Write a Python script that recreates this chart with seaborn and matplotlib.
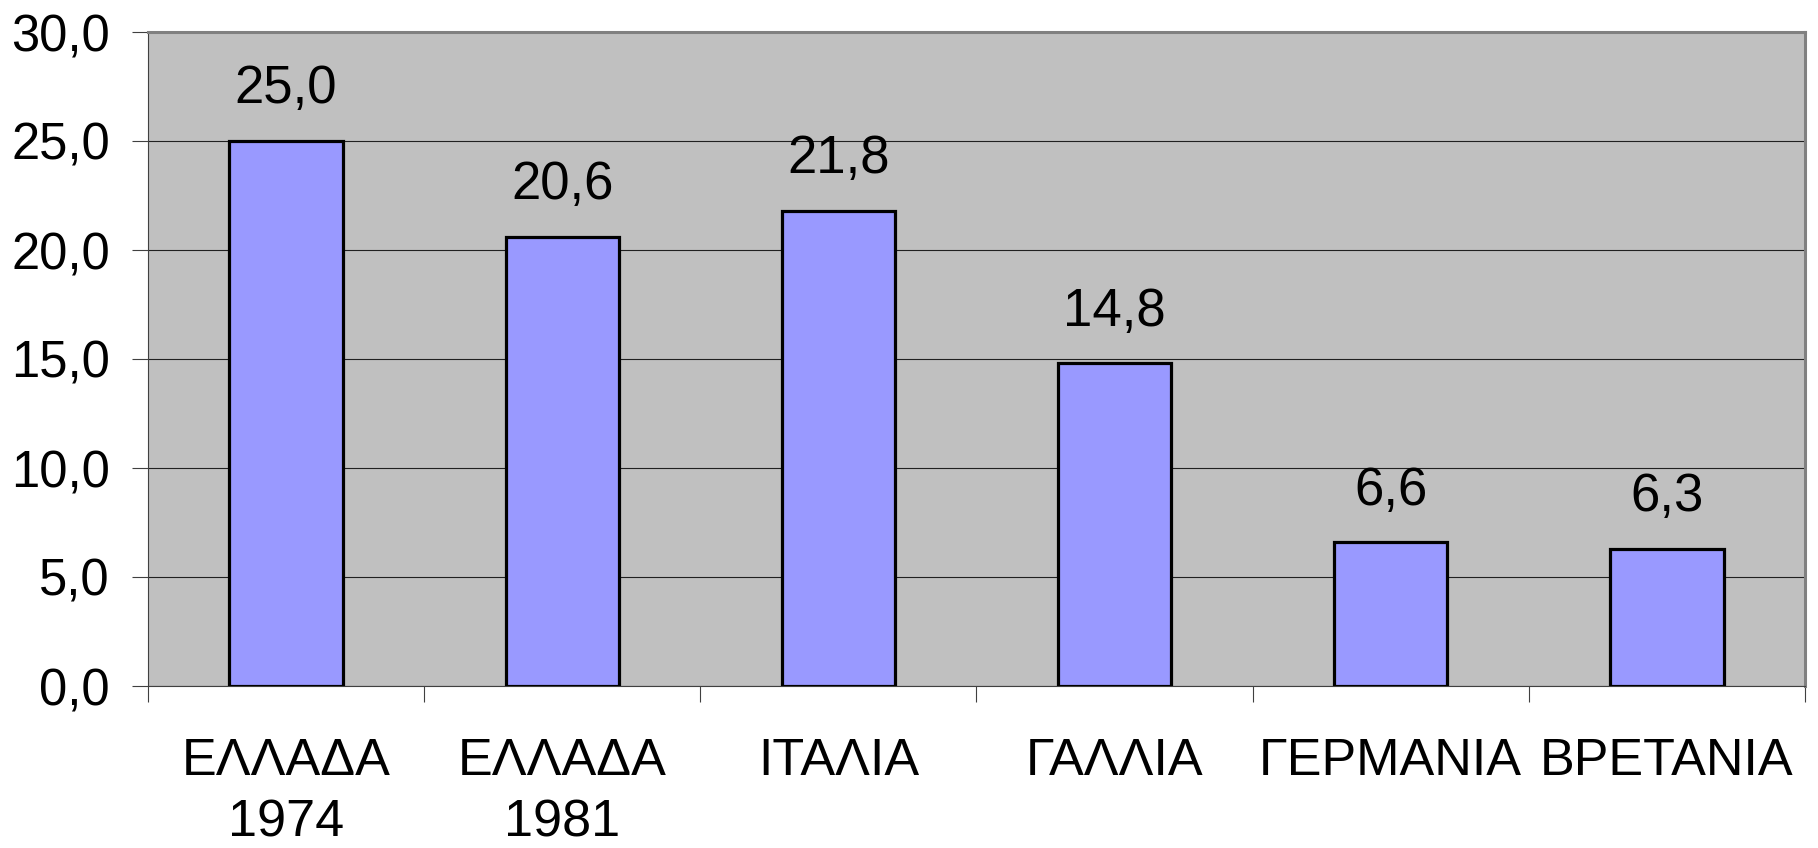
import matplotlib
matplotlib.use("Agg")
import matplotlib.pyplot as plt
import seaborn as sns
import pandas as pd
from matplotlib.ticker import FuncFormatter, FixedLocator

categories = ["ΕΛΛΑΔΑ\n1974", "ΕΛΛΑΔΑ\n1981", "ΙΤΑΛΙΑ", "ΓΑΛΛΙΑ", "ΓΕΡΜΑΝΙΑ", "ΒΡΕΤΑΝΙΑ"]
values = [25.0, 20.6, 21.8, 14.8, 6.6, 6.3]
yticks = [0, 5, 10, 15, 20, 25, 30]

sns.set_theme(style="white", rc={"text.color": "black"})
plt.rcParams['font.family'] = ['Liberation Sans', 'DejaVu Sans']

df = pd.DataFrame({"cat": categories, "val": values})

fig = plt.figure(figsize=(18.18, 8.48), dpi=100)
W, H = 1818, 848
left, right, top, bottom = 148, 1805, 32, 686
ax = fig.add_axes([left / W, (H - bottom) / H, (right - left) / W, (bottom - top) / H])
ax.set_facecolor("#C0C0C0")

sns.barplot(data=df, x="cat", y="val", color="#9999FF", saturation=1,
            width=0.41, edgecolor="black", linewidth=2.3, ax=ax, zorder=3)

ax.set_ylim(0, 30)
ax.set_xlim(-0.5, len(categories) - 0.5)
ax.set_yticks(yticks)
ax.yaxis.set_major_formatter(FuncFormatter(lambda v, p: f"{v:.1f}".replace(".", ",")))
ax.grid(axis="y", color="#202020", linewidth=0.8, zorder=1)
ax.set_axisbelow(True)
ax.set_xlabel("")
ax.set_ylabel("")

ax.tick_params(axis="y", which="major", direction="out", length=11.5, width=0.8,
               color="#404040", pad=16, labelsize=36.5, left=True, labelcolor="black")
ax.tick_params(axis="x", which="major", length=0, pad=37, labelsize=37.5, labelcolor="black")
ax.xaxis.set_minor_locator(FixedLocator([i - 0.5 for i in range(len(categories) + 1)]))
ax.tick_params(axis="x", which="minor", direction="out", length=11.5, width=0.8,
               color="#404040", bottom=True)
for lbl in ax.get_xticklabels():
    lbl.set_linespacing(1.32)

for s in ["left", "bottom"]:
    ax.spines[s].set_color("#404040")
    ax.spines[s].set_linewidth(0.8)
for s in ["top", "right"]:
    ax.spines[s].set_color("#808080")
    ax.spines[s].set_linewidth(2.2)

for i, v in enumerate(values):
    ax.annotate(f"{v:.1f}".replace(".", ","), xy=(i, v), xytext=(0, 27),
                textcoords="offset points", ha="center", va="baseline",
                fontsize=38, color="black")

fig.savefig("out.png", dpi=100, facecolor="white")
